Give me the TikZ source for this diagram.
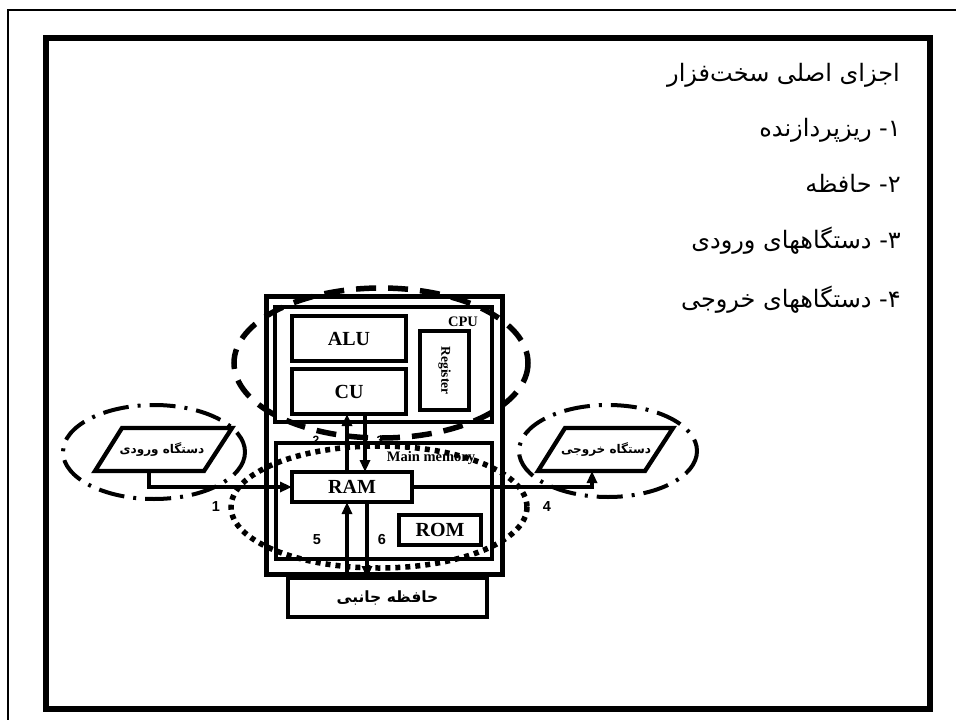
\documentclass[tikz,border=0pt]{standalone}
\usepackage{fontspec}
\setmainfont{Liberation Serif}
\newfontfamily\arabicfont[Script=Arabic]{DejaVu Sans}
\newfontfamily\arabicbold[Script=Arabic]{DejaVu Sans Bold}
\newfontfamily\numfont{Liberation Sans}
\TeXXeTstate=1
\usetikzlibrary{arrows.meta}
\tikzset{
  box/.style={draw, line width=4.3pt, inner sep=0pt, outer sep=0pt, font=\bfseries\fontsize{20}{22}\selectfont},
  arr/.style={line width=3.4pt, -{Triangle[length=12pt,width=10pt]}},
  lab/.style={font=\numfont\bfseries\fontsize{14.5}{15}\selectfont, inner sep=0pt},
  smalllab/.style={font=\numfont\bfseries\fontsize{12}{13}\selectfont, inner sep=0pt},
  fa/.style={font=\arabicfont\fontsize{24}{28}\selectfont, inner sep=0pt, anchor=base east},
  cpuell/.style={line width=5.5pt, dash pattern=on 20pt off 12pt},
  memell/.style={line width=5.5pt, dash pattern=on 5pt off 5pt},
  ioell/.style={line width=4pt, dash pattern=on 26pt off 9pt on 3pt off 9pt},
  para/.style={line width=4.3pt, line join=miter},
}
\begin{document}
\begin{tikzpicture}[x=1pt,y=-1pt]
\useasboundingbox (0,0) rectangle (956,720);
% frames
\draw[line width=2pt] (8,720) -- (8,10) -- (956,10);
\draw[line width=6pt] (46,38) rectangle (930,709);
% Persian text
\node[fa] (t0) at (900,81) {\beginR اجزای اصلی سخت‌فزار\endR};
\node[fa] (t1) at (901,136) {\beginR ۱- ریزپردازنده\endR};
\node[fa] (t2) at (901,192) {\beginR ۲- حافظه\endR};
\node[fa] (t3) at (901,248) {\beginR ۳- دستگاههای ورودی\endR};
\node[fa] (t4) at (901,307) {\beginR ۴- دستگاههای خروجی\endR};
% computer boxes
\node[box, line width=5pt, minimum width=236pt, minimum height=278pt] (comp) at (384,435) {};
\node[box, minimum width=217pt, minimum height=115pt] (cpu) at (383.5,364.5) {};
\node[box, minimum width=114pt, minimum height=45pt] (alu) at (349,338.5) {ALU};
\node[box, minimum width=114pt, minimum height=45pt] (cu) at (349,391.5) {CU};
\node[box, minimum width=49pt, minimum height=79pt] (reg) at (444.5,370.5) {};
\node[rotate=-90, inner sep=0pt, font=\bfseries\fontsize{13.5}{14}\selectfont] (regt) at (reg.center) {Register};
\node[inner sep=0pt, font=\bfseries\fontsize{14.5}{15}\selectfont] (cpul) at (463,322) {CPU};
\node[box, minimum width=216pt, minimum height=116pt] (mm) at (384,501) {};
\node[inner sep=0pt, font=\bfseries\fontsize{14.5}{15}\selectfont] (mml) at (431,458) {Main memory};
\node[box, minimum width=120pt, minimum height=30pt] (ram) at (352,487) {RAM};
\node[box, minimum width=82pt, minimum height=30pt] (rom) at (440,530) {ROM};
\node[box, minimum width=199pt, minimum height=39pt, font=\arabicbold\fontsize{15.5}{20}\selectfont] (sec) at (387.5,597.5) {\beginR حافظه جانبی\endR};
% input / output devices
\draw[para] (122,428) -- (232,428) -- (204,471) -- (95,471) -- cycle;
\node[inner sep=0pt, font=\arabicbold\fontsize{12}{15}\selectfont] (inp) at (162,450) {\beginR دستگاه ورودی\endR};
\coordinate (inb) at (149,471);
\draw[para] (565,428) -- (673,428) -- (645,471) -- (538,471) -- cycle;
\node[inner sep=0pt, font=\arabicbold\fontsize{12}{15}\selectfont] (outp) at (606,450) {\beginR دستگاه خروجی\endR};
\coordinate (outb) at (592,471);
% connectors
\coordinate (x2) at (347,0);
\coordinate (x3) at (365,0);
\coordinate (x6) at (367,0);
\draw[arr] (inb) |- (ram.west);
\draw[arr] (ram.east) -| (outb);
\draw[arr] (ram.north -| x2) -- (cu.south -| x2);
\draw[arr] (cu.south -| x3) -- (ram.north -| x3);
\draw[arr] (sec.north -| x2) -- (ram.south -| x2);
\draw[arr] (ram.south -| x6) -- (sec.north -| x6);
% labels
\node[lab] (l1) at (216,507) {1};
\node[lab] (l4) at (547,507) {4};
\node[lab] (l5) at (317,540) {5};
\node[lab] (l6) at (382,540) {6};
\node[smalllab] (l2) at (316,440) {2};
\node[smalllab] (l3) at (380,440) {3};
% ellipses
\draw[cpuell] (381,363) ellipse [x radius=147, y radius=75];
\draw[memell] (379,507) ellipse [x radius=148, y radius=61];
\draw[ioell] (154,452) ellipse [x radius=91, y radius=47];
\draw[ioell] (608,451) ellipse [x radius=89, y radius=46];
\end{tikzpicture}
\end{document}
